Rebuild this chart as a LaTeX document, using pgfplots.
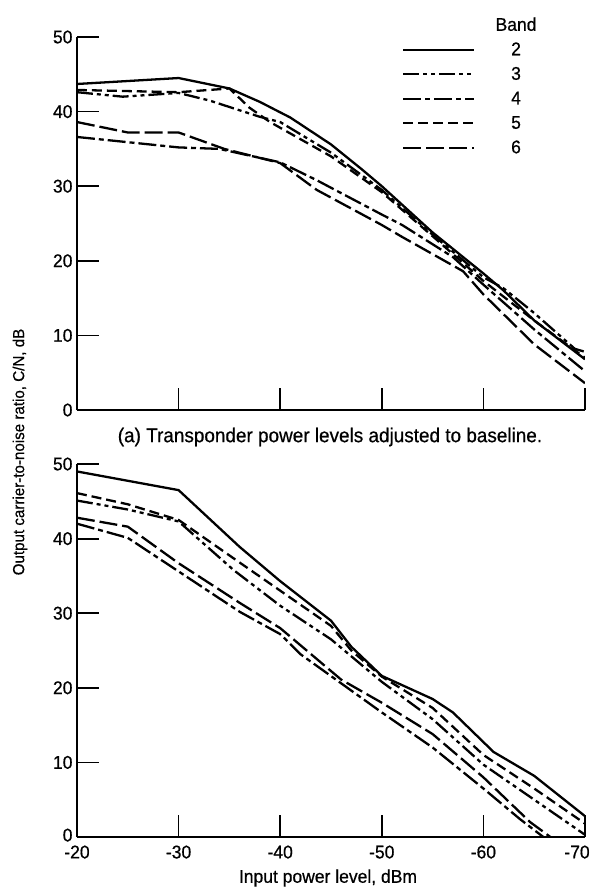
\documentclass[border=0pt]{standalone}
\usepackage{fontspec}
\setmainfont{Liberation Sans}[FakeStretch=0.95,FakeBold=0.6]
\usepackage{pgfplots}
\pgfplotsset{compat=1.18}
\begin{document}
\begin{tikzpicture}
\useasboundingbox (-77bp,37bp) rectangle (518bp,-854bp);
\pgfplotsset{
 myax/.style={
  scale only axis, width=508bp, height=373bp,
  xmin=-70, xmax=-20, ymin=0, ymax=50, x dir=reverse,
  axis x line=bottom, axis y line=left,
  axis line style={-, line width=2pt},
  tick align=inside, major tick length=22bp,
  every tick/.style={line width=1.8pt, black},
  xtick={-70,-60,-50,-40,-30,-20}, ytick={0,10,20,30,40,50},
  /pgf/number format/assume math mode=true,
  ticklabel style={font=\fontsize{18.5}{20}\selectfont},
  yticklabel style={xshift=-1bp},
  xticklabel style={yshift=-5bp},
  legend image code/.code={\draw[##1] (0bp,0bp) -- (71bp,0bp);},
 },
 b2/.style={line width=2.3pt, solid},
 b3/.style={line width=2.3pt, dash pattern=on 16pt off 4pt on 4pt off 4pt on 4pt off 4pt},
 b4/.style={line width=2.3pt, dash pattern=on 18pt off 4pt on 5pt off 4pt},
 b5/.style={line width=2.3pt, dash pattern=on 10pt off 5pt},
 b6/.style={line width=2.3pt, dash pattern=on 18pt off 5pt},
}
% ---------------- top axis (a)
\begin{axis}[myax, at={(0,0)}, anchor=north west,
  xticklabels={},
  legend style={at={(axis description cs:0.64,1.052)}, anchor=north west,
    draw=none, fill=none, inner sep=0pt, row sep=9.5bp, column sep=20bp,
    font=\fontsize{18.5}{20}\selectfont,
    cells={anchor=center},
    nodes={inner sep=0pt, text height=13bp, text depth=2bp}},
]
\addlegendimage{empty legend}\addlegendentry{Band}
\addplot[b2] coordinates {(-20,43.7) (-25,44.1) (-30,44.5) (-35,43.1) (-38,41.3) (-41,39.2) (-45,35.6) (-48,32.3) (-50,30) (-55,23.8) (-60,18.3) (-62,16) (-65,12) (-70,6.8)};
\addlegendentry{2}
\addplot[b3] coordinates {(-20,42.6) (-24.5,42) (-30,42.5) (-33,41.5) (-38,39.3) (-40,38.6) (-45,34.5) (-50,29.5) (-55,23.5) (-60,17.8) (-62,16.3) (-65,13) (-69,8.2) (-70,7.8)};
\addlegendentry{3}
\addplot[b4] coordinates {(-20,36.6) (-30,35.2) (-34,35) (-40,33.2) (-43.6,30.8) (-50,26.2) (-52,24.8) (-57,20.5) (-60,16.8) (-65,10.8) (-70,5.2)};
\addlegendentry{4}
\addplot[b5] coordinates {(-20,42.9) (-30,42.6) (-35,43.1) (-37,40.5) (-39,38.6) (-45,34) (-50,29.2) (-55,23.3) (-60,17.3) (-65,12) (-70,7.0)};
\addlegendentry{5}
\addplot[b6] coordinates {(-20,38.6) (-25,37.2) (-30,37.2) (-34.5,35) (-40,33.1) (-43.6,29.5) (-50,24.8) (-52,23.2) (-58,18.6) (-60,15.5) (-65,8.8) (-70,3.6)};
\addlegendentry{6}
\end{axis}
% ---------------- bottom axis
\begin{axis}[myax, at={(0,-427bp)}, anchor=north west,
  xticklabels={{\kern-16bp-70},-60,-50,-40,-30,-20},
  yticklabels={\raisebox{4bp}{0},10,20,30,40,50},
]
\addplot[b2] coordinates {(-20,49) (-30,46.5) (-36,38.9) (-40,34.3) (-45,29) (-47,25.5) (-50,21.6) (-55,18.5) (-57,16.7) (-61,11.4) (-65,8.2) (-70,2.8)};
\addplot[b3] coordinates {(-20,45.1) (-25,43.9) (-30,42.3) (-35.4,35.8) (-40,31) (-45,26.5) (-50,20.8) (-55,15.8) (-60,9.7) (-65,5) (-70,0.3)};
\addplot[b4] coordinates {(-20,42) (-25,40.1) (-30,35.6) (-36,30.2) (-40,27.2) (-42,24.5) (-50,16.7) (-55,12) (-60,6.5) (-63.6,2.4) (-65.9,0)};
\addplot[b5] coordinates {(-20,46.1) (-25,44.6) (-30,42.5) (-36,36.8) (-45,28.3) (-47,25) (-50,21.5) (-55,17.3) (-60,11) (-65,6.5) (-70,1.8)};
\addplot[b6] coordinates {(-20,42.8) (-25,41.6) (-30,36.7) (-36,31.4) (-40,28) (-46,21.1) (-50,18) (-55,13.8) (-60,8) (-64.6,2) (-66.6,0)};
\end{axis}
\node[font=\fontsize{20}{22}\selectfont] at (253bp,-400bp) {(a) Transponder power levels adjusted to baseline.};
\node[rotate=90, font=\fontsize{16}{18}\selectfont] at (-57bp,-415bp) {Output carrier-to-noise ratio, C/N, dB};
\node[font=\fontsize{18.5}{20}\selectfont] at (251bp,-841bp) {Input power level, dBm};
\end{tikzpicture}
\end{document}
